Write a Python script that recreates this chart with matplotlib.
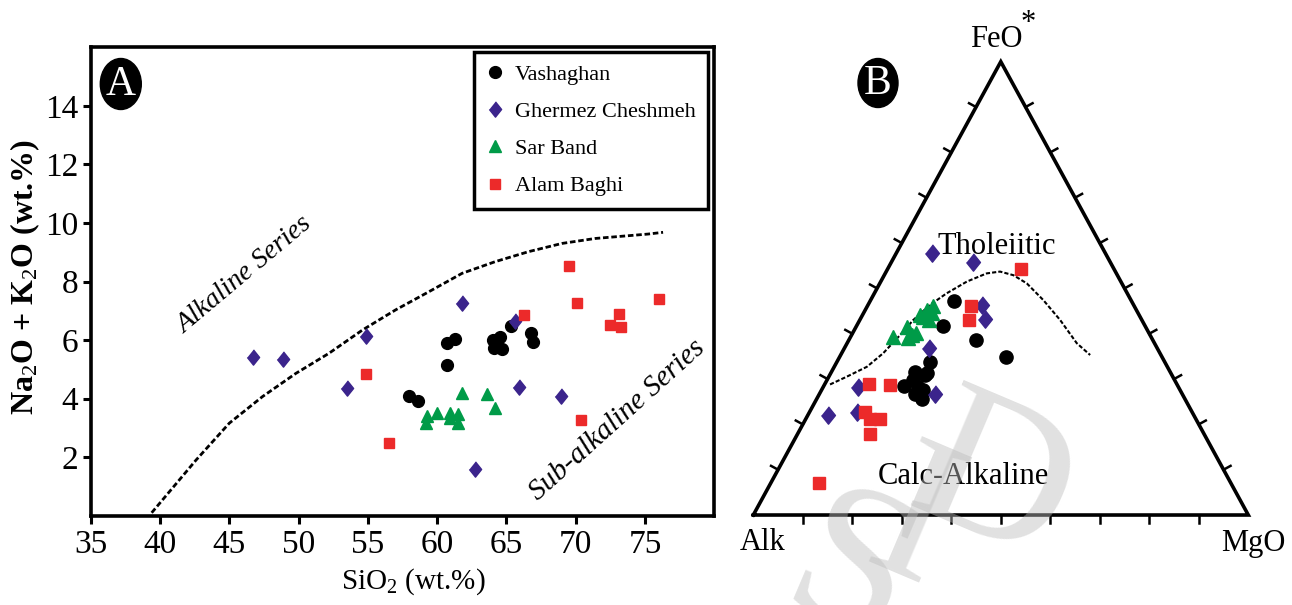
import numpy as np
import matplotlib.pyplot as plt
from matplotlib.patches import Ellipse

plt.rcParams['font.family'] = ['Liberation Serif', 'DejaVu Serif']
plt.rcParams['mathtext.fontset'] = 'custom'
plt.rcParams['mathtext.rm'] = 'Liberation Serif'
plt.rcParams['mathtext.it'] = 'Liberation Serif:italic'
plt.rcParams['mathtext.bf'] = 'Liberation Serif:bold'

# ---- (A) SiO2 vs Na2O+K2O, wt.% ----
vash_sio2 = [58.0, 58.6, 60.7, 60.7, 61.3, 64.0, 64.5, 64.1, 64.7, 65.3, 66.8, 66.9, 64.3]
vash_alk = [4.09, 3.93, 5.15, 5.89, 6.05, 6.00, 6.09, 5.72, 5.68, 6.49, 6.23, 5.94, 5.83]
gher_sio2 = [46.7, 48.9, 54.9, 53.5, 61.8, 65.6, 65.9, 68.9, 62.7]
gher_alk = [5.43, 5.35, 6.15, 4.37, 7.27, 6.65, 4.38, 4.10, 1.61]
sar_sio2 = [61.8, 63.6, 64.2, 59.3, 60.0, 60.9, 61.5, 59.2, 60.9, 61.5]
sar_alk = [4.20, 4.15, 3.67, 3.40, 3.52, 3.52, 3.47, 3.18, 3.33, 3.18]
alam_sio2 = [69.5, 70.1, 76.0, 66.3, 73.1, 72.5, 73.3, 54.9, 70.4, 56.5]
alam_alk = [8.53, 7.27, 7.39, 6.85, 6.89, 6.51, 6.43, 4.83, 3.27, 2.49]

# alkaline / sub-alkaline divide
div_sio2 = [39.4, 42.6, 45.0, 47.4, 49.8, 52.2, 54.6, 57.0, 59.4, 61.8, 64.2, 66.6, 69.0, 71.4, 75.2, 76.3]
div_alk = [0.1, 1.9, 3.16, 4.07, 4.86, 5.55, 6.34, 7.03, 7.65, 8.28, 8.68, 9.02, 9.30, 9.47, 9.62, 9.68]

# ---- (B) AFM ternary, FeO* and MgO in % (Alk = rest) ----
vash_F = [47.3, 41.7, 38.6, 34.9, 33.8, 31.6, 30.9, 29.8, 28.5, 28.3, 27.6, 26.8, 25.7, 31.3]
vash_M = [16.8, 17.5, 25.7, 33.7, 18.8, 16.9, 19.2, 17.4, 16.1, 19.2, 20.5, 19.3, 21.2, 19.4]
gher_F = [57.9, 55.9, 46.3, 43.2, 36.9, 28.2, 26.6, 22.1, 22.8]
gher_M = [7.1, 16.5, 23.0, 25.3, 17.1, 7.1, 23.5, 4.1, 9.5]
sar_F = [39.3, 41.4, 39.7, 40.1, 39.0, 44.1, 45.2, 46.1, 43.0, 44.5, 43.7]
sar_M = [8.6, 10.3, 12.2, 12.8, 11.8, 11.6, 12.4, 13.3, 13.9, 13.8, 12.5]
alam_F = [54.2, 46.1, 43.0, 28.9, 28.7, 22.8, 21.1, 21.1, 17.9, 7.1]
alam_M = [26.9, 20.9, 22.1, 9.0, 13.3, 11.2, 13.0, 15.0, 14.6, 9.8]

# tholeiitic / calc-alkaline boundary
bnd_F = [28.8, 30.5, 32.7, 35.7, 39.7, 43.0, 46.3, 48.9, 51.5, 53.3, 53.7, 52.9, 51.1, 47.4, 43.0, 37.9, 35.3]
bnd_M = [1.1, 3.6, 6.6, 8.4, 9.8, 10.8, 12.5, 14.6, 17.4, 20.5, 23.0, 26.1, 29.7, 34.9, 40.5, 46.4, 50.4]

names = ['Vashaghan', 'Ghermez Cheshmeh', 'Sar Band', 'Alam Baghi']
colors = ['#000000', '#3b248c', '#009b48', '#ec2a2a']
diamond = [(0, 1), (0.8, 0), (0, -1), (-0.8, 0)]
markers = ['o', diamond, '^', 's']
sizes_a = [8.5, 11, 9, 7.5]
sizes_b = [9.5, 12.5, 10, 8.8]


def tern(F, M):
    f = np.asarray(F) / 100.0
    m = np.asarray(M) / 100.0
    return m + f / 2, f


fig = plt.figure(figsize=(12.92, 6.05), dpi=100)

# ================= panel A =================
ax = fig.add_axes([0.0702, 0.1476, 0.4827, 0.7742])
tas = [(vash_sio2, vash_alk), (gher_sio2, gher_alk), (sar_sio2, sar_alk), (alam_sio2, alam_alk)]
for (xs, ys), nm, c, mk, ms in zip(tas, names, colors, markers, sizes_a):
    ax.plot(xs, ys, ls='none', marker=mk, ms=ms, color=c, mec=c, label=nm, zorder=3)
ax.plot(div_sio2, div_alk, color='k', lw=2.0, ls=(0, (2.0, 1.0)), zorder=2)

ax.set_xlim(35, 80)
ax.set_ylim(0, 16)
ax.set_xticks(range(35, 80, 5))
ax.set_yticks(range(2, 16, 2))
ax.tick_params(axis='both', direction='out', length=6, width=2.2, labelsize=24)
ax.tick_params(axis='x', pad=4)
ax.tick_params(axis='y', pad=3)
for s in ax.spines.values():
    s.set_linewidth(2.6)
ax.set_xlabel('SiO$_2$ (wt.%)', fontsize=21)
ax.xaxis.set_label_coords(0.518, -0.108)
ax.set_ylabel('Na$_2$O + K$_2$O (wt.%)', fontsize=23, fontweight='bold')
ax.yaxis.set_label_coords(-0.078, 0.51)

ax.text(46.1, 8.22, 'Alkaline Series', fontsize=20, style='italic', rotation=40,
        ha='center', va='center')
ax.text(73.0, 3.27, 'Sub-alkaline Series', fontsize=21, style='italic', rotation=42,
        ha='center', va='center')

leg = ax.legend(loc='upper right', bbox_to_anchor=(0.99, 0.99), fontsize=16, frameon=True,
                fancybox=False, edgecolor='black', framealpha=1, borderpad=0.55,
                labelspacing=0.75, handlelength=0.8, handletextpad=0.5, borderaxespad=0)
leg.get_frame().set_linewidth(2.5)

fig.add_artist(Ellipse((120.8 / 1292, 1 - 84 / 605), 41 / 1292, 51 / 605,
                       transform=fig.transFigure, color='black'))
fig.text(120.8 / 1292, 1 - 85 / 605, 'A', color='white', fontsize=30, ha='center', va='center')

# ================= panel B =================
bx = fig.add_axes([720 / 1292, 0, 572 / 1292, 1])
bx.set_xlim(-0.0673, 1.0883)
bx.set_ylim(-0.1985, 1.1361)
bx.axis('off')

bx.plot([0, 1, 0.5, 0], [0, 0, 1, 0], color='k', lw=2.6, solid_joinstyle='miter', zorder=2)
tl = 8.0
nx, ny = 0.878 * tl / 495, 0.478 * tl / 453.3
for t in np.arange(1, 10) / 10:
    bx.plot([t, t], [0, -tl / 453.3], color='k', lw=1.8)
    bx.plot([t / 2, t / 2 - nx], [t, t + ny], color='k', lw=1.8)
    bx.plot([1 - t / 2, 1 - t / 2 + nx], [t, t + ny], color='k', lw=1.8)

bx.plot(*tern(bnd_F, bnd_M), color='k', lw=1.5, ls=(0, (2.0, 1.0)), zorder=2)

afm = [(vash_F, vash_M), (gher_F, gher_M), (sar_F, sar_M), (alam_F, alam_M)]
for (Fs, Ms), c, mk, ms in zip(afm, colors, markers, sizes_b):
    xs, ys = tern(Fs, Ms)
    bx.plot(xs, ys, ls='none', marker=mk, ms=ms, color=c, mec=c, zorder=3)

bx.text(0.4917, 0.5919, 'Tholeiitic', fontsize=22, ha='center', va='center', zorder=4)
bx.text(0.4242, 0.0845, 'Calc-Alkaline', fontsize=22, ha='center', va='center', zorder=4)
bx.text(0.4917, 1.050, 'FeO', fontsize=22, ha='center', va='center')
bx.text(0.555, 1.085, '*', fontsize=22, ha='center', va='center')
bx.text(0.0186, -0.0607, 'Alk', fontsize=22, ha='center', va='center')
bx.text(1.0095, -0.0618, 'MgO', fontsize=22, ha='center', va='center')

# faint slanted watermark letters (partly off the bottom edge, as in the source)
for ch, wx, wy in [('S', 0.195, -0.143), ('I', 0.3206, -0.0287), ('D', 0.484, 0.0596)]:
    bx.text(wx, wy, ch, fontsize=150, color='#bdbdbd', alpha=0.45, rotation=-23,
            ha='center', va='center', zorder=5)

fig.add_artist(Ellipse((878 / 1292, 1 - 83 / 605), 40 / 1292, 49 / 605,
                       transform=fig.transFigure, color='black'))
fig.text(878 / 1292, 1 - 84 / 605, 'B', color='white', fontsize=30, ha='center', va='center')

fig.savefig('out.png', dpi=100)
